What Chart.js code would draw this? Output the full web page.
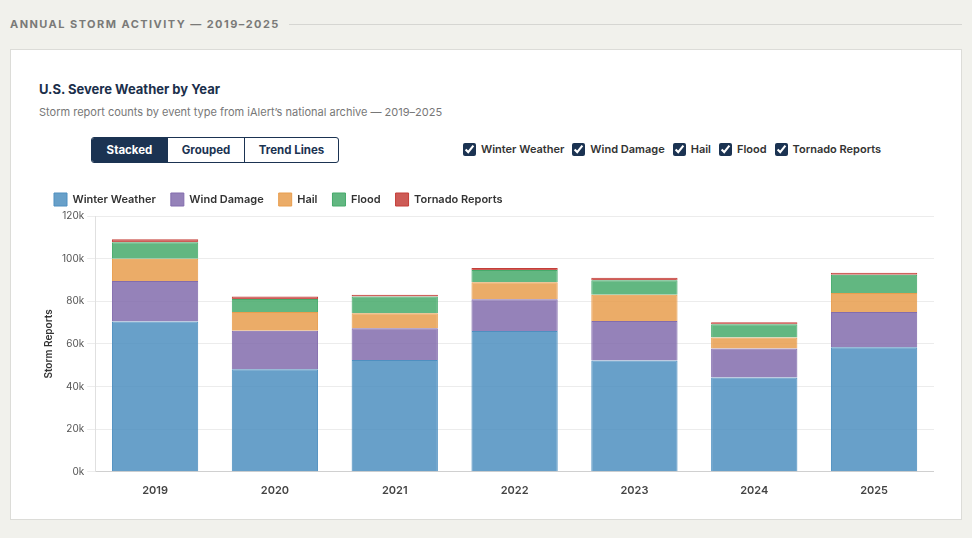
<!DOCTYPE html>
<html><head><meta charset="utf-8">
<script src="https://cdn.jsdelivr.net/npm/chart.js@4"></script>
<style>
*{box-sizing:border-box}
body{margin:0;width:972px;height:538px;background:#f1f1ec;font-family:Inter,"Noto Sans",sans-serif;overflow:hidden;position:relative}
.hdr{position:absolute;left:10px;top:17px;right:10px;display:flex;align-items:center;font-size:11px;font-weight:700;letter-spacing:1.45px;color:#7a7a78}
.hdr .ln{flex:1;height:1px;background:#d6d6d2;margin-left:9px}
.card{position:absolute;left:10px;top:49px;width:952px;height:471px;background:#fff;border:1px solid #dcdcd8}
.title{position:absolute;left:28px;top:31px;font-size:13px;font-weight:700;color:#1b2f4b}
.sub{position:absolute;left:28px;top:55px;font-size:11px;color:#777}
.btns{position:absolute;left:80px;top:87px;display:flex;border:1px solid #1b3352;border-radius:3px;overflow:hidden;height:26px}
.btns div{font-size:11.5px;font-weight:700;color:#1b3352;display:flex;align-items:center;justify-content:center;border-left:1px solid #1b3352}
.btns div:first-child{border-left:none;background:#1b3352;color:#fff}
.checks{position:absolute;left:452px;top:92px;display:flex;align-items:center;font-size:11px;font-weight:600;color:#333}
.checks label{display:flex;align-items:center;margin-right:8px}
.checks input{accent-color:#1b3352;width:13px;height:13px;margin:0 5px 0 0}
.cw{position:absolute;left:28px;top:128px;width:895px;height:323px}
</style></head><body>
<div class="hdr"><span>ANNUAL STORM ACTIVITY — 2019–2025</span><span class="ln"></span></div>
<div class="card">
<div class="title">U.S. Severe Weather by Year</div>
<div class="sub">Storm report counts by event type from iAlert’s national archive — 2019–2025</div>
<div class="btns"><div style="width:75px">Stacked</div><div style="width:77px">Grouped</div><div style="width:94px">Trend Lines</div></div>
<div class="checks">
<label><input type="checkbox" checked>Winter Weather</label>
<label><input type="checkbox" checked>Wind Damage</label>
<label><input type="checkbox" checked>Hail</label>
<label><input type="checkbox" checked>Flood</label>
<label><input type="checkbox" checked>Tornado Reports</label>
</div>
<div class="cw"><canvas id="c"></canvas></div>
</div>
<script>
const years = ["2019","2020","2021","2022","2023","2024","2025"];
const winterWeather = [70500, 48100, 52400, 66100, 52200, 44200, 58400];
const windDamage    = [19000, 18100, 15000, 14900, 18600, 13600, 16600];
const hail          = [10500,  8800,  7000,  7900, 12200,  5200,  8900];
const flood         = [ 7700,  6100,  7800,  5800,  6900,  6200,  8500];
const tornadoReports= [ 1400,  1100,   800,   900,  1100,  1000,  1000];
const seriesNames = ["Winter Weather","Wind Damage","Hail","Flood","Tornado Reports"];
const yTicks = [0,20000,40000,60000,80000,100000,120000];

const cols = [[78,143,192],[131,108,173],[232,158,78],[70,170,107],[196,62,56]];
const dataSets=[winterWeather,windDamage,hail,flood,tornadoReports];
new Chart(document.getElementById('c'),{
  type:'bar',
  data:{labels:years,datasets:dataSets.map((d,i)=>({
    label:seriesNames[i],data:d,
    backgroundColor:`rgba(${cols[i]},0.85)`,
    borderColor:`rgba(${cols[i]},1)`,
    borderWidth:1
  }))},
  options:{
    responsive:true,maintainAspectRatio:false,animation:false,
    layout:{padding:0},
    plugins:{legend:{position:'top',align:'start',labels:{boxWidth:13,boxHeight:13,padding:15,color:'#333',font:{family:'Inter',size:11,weight:'600'}}},tooltip:{enabled:false}},
    scales:{
      x:{stacked:true,grid:{display:false},border:{color:'#d0d0d0'},ticks:{color:'#444',padding:4,font:{family:'Inter',size:11,weight:'600'}}},
      y:{stacked:true,min:0,max:120000,afterBuildTicks:a=>{a.ticks=yTicks.map(v=>({value:v}));},
        grid:{color:'#ececec'},border:{display:true,color:'#e0e0e0'},
        ticks:{color:'#555',font:{family:'Inter',size:10},callback:v=>(v/1000)+'k'},
        title:{display:true,text:'Storm Reports',color:'#333',font:{family:'Inter',size:10,weight:'600'}}}
    }
  }
});
</script>
</body></html>
